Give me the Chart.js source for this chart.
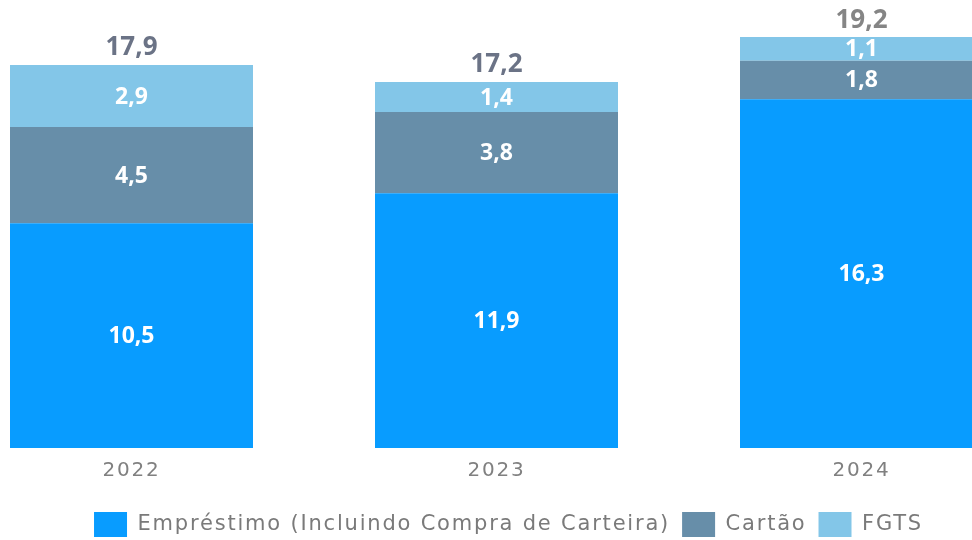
<!DOCTYPE html>
<html>
<head>
<meta charset="utf-8">
<script src="https://cdn.jsdelivr.net/npm/chart.js@4.4.1/dist/chart.umd.min.js"></script>
<style>
  html, body { margin: 0; padding: 0; background: #fff; overflow: hidden; }
  body { width: 972px; height: 540px; position: relative; }
  #wrap { position: absolute; left: -51px; top: 0; width: 1119px; height: 540px; }
</style>
</head>
<body>
<div id="wrap"><canvas id="chart"></canvas></div>
<script>
const years = ['2022', '2023', '2024'];
const emprestimo = [10.5, 11.9, 16.3];
const cartao = [4.5, 3.8, 1.8];
const fgts = [2.9, 1.4, 1.1];
const totals = [17.9, 17.2, 19.2];
const totalColors = ['#6b7386', '#6b7386', '#858585'];

const FONT = '"Open Sans", "Noto Sans", sans-serif';
const TEXT_FONT = '"DejaVu Sans", sans-serif';
function fmt(v) { return v.toFixed(1).replace('.', ','); }

// wider text to get closer to the original's Montserrat
const spacingPlugin = {
    id: 'spacing',
    beforeLayout: function (chart) { chart.ctx.letterSpacing = '1.8px'; },
    beforeDraw: function (chart) { chart.ctx.letterSpacing = '1.8px'; }
};

const labelPlugin = {
    id: 'barLabels',
    afterDatasetsDraw: function (chart) {
        const ctx = chart.ctx;
        ctx.save();
        ctx.letterSpacing = '0px';
        ctx.textAlign = 'center';
        ctx.textBaseline = 'middle';
        ctx.fillStyle = '#ffffff';
        ctx.font = 'bold 23px ' + FONT;
        chart.data.datasets.forEach(function (ds, i) {
            chart.getDatasetMeta(i).data.forEach(function (bar, j) {
                ctx.fillText(fmt(ds.data[j]), bar.x, (bar.y + bar.base) / 2 + 1);
            });
        });
        const last = chart.getDatasetMeta(chart.data.datasets.length - 1);
        ctx.font = 'bold 26px ' + FONT;
        ctx.textBaseline = 'bottom';
        last.data.forEach(function (bar, j) {
            ctx.fillStyle = totalColors[j];
            ctx.fillText(fmt(totals[j]), bar.x, bar.y - 4);
        });
        ctx.restore();
    }
};

new Chart(document.getElementById('chart'), {
    type: 'bar',
    data: {
        labels: years,
        datasets: [
            { label: 'Empréstimo (Incluindo Compra de Carteira)', data: emprestimo, backgroundColor: '#089cff' },
            { label: 'Cartão', data: cartao, backgroundColor: '#678ea9' },
            { label: 'FGTS', data: fgts, backgroundColor: '#83c6e8' }
        ]
    },
    options: {
        responsive: true,
        maintainAspectRatio: false,
        animation: false,
        layout: { padding: { top: 20, bottom: -7, left: 0, right: 0 } },
        datasets: { bar: { categoryPercentage: 1, barPercentage: 243 / 365, borderWidth: 0 } },
        scales: {
            x: {
                stacked: true,
                grid: { display: false },
                border: { display: false },
                ticks: { color: '#808080', font: { family: TEXT_FONT, size: 20 }, padding: 3 },
                afterFit: function (scale) { scale.height = 52; }
            },
            y: {
                stacked: true,
                position: 'right',
                min: 0,
                max: 20,
                grid: { display: false },
                border: { display: false },
                ticks: { display: false },
                afterFit: function (scale) { scale.width = 24; }
            }
        },
        plugins: {
            tooltip: { enabled: false },
            legend: {
                position: 'bottom',
                labels: {
                    color: '#7a7a7a',
                    font: { family: TEXT_FONT, size: 21 },
                    boxWidth: 33,
                    boxHeight: 25,
                    padding: 12
                }
            }
        }
    },
    plugins: [spacingPlugin, labelPlugin]
});
</script>
</body>
</html>
